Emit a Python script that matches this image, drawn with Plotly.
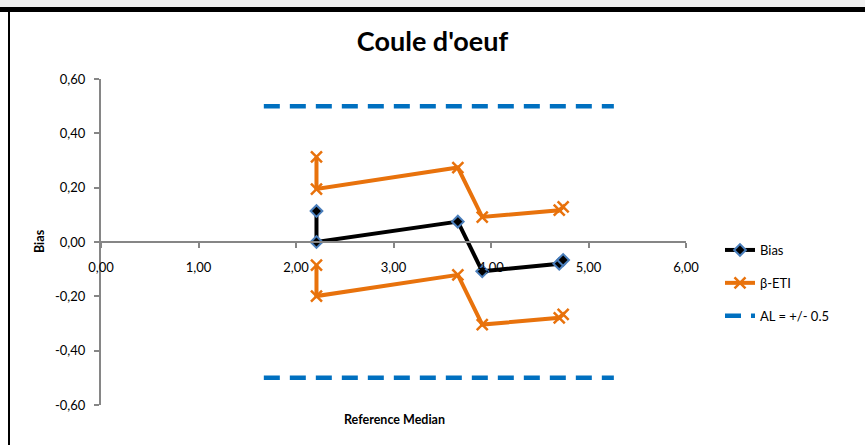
import plotly.graph_objects as go

# Data
bias_x = [2.21, 2.21, 3.66, 3.91, 4.70, 4.74]
bias_y = [0.114, 0.0, 0.075, -0.108, -0.080, -0.066]

eti_up_x = [2.21, 2.21, 3.66, 3.91, 4.70, 4.74]
eti_up_y = [0.313, 0.195, 0.274, 0.092, 0.117, 0.129]

eti_lo_x = [2.21, 2.21, 3.66, 3.91, 4.70, 4.74]
eti_lo_y = [-0.085, -0.199, -0.121, -0.304, -0.279, -0.266]

al_x = [1.67, 5.26]
al_up = [0.5, 0.5]
al_lo = [-0.5, -0.5]

x_ticks = [0, 1, 2, 3, 4, 5, 6]
y_ticks = [-0.6, -0.4, -0.2, 0.0, 0.2, 0.4, 0.6]


def fmt(v):
    return f"{v:.2f}".replace(".", ",")


ORANGE = "#E8720C"
BLUE_AL = "#0070C0"
FONT = "Lato"

fig = go.Figure()

fig.add_trace(go.Scatter(
    x=al_x, y=al_up, mode="lines", name="AL = +/- 0.5",
    line=dict(color=BLUE_AL, width=4.5, dash="16px,10px"),
    legendgroup="c", legendrank=3,
))
fig.add_trace(go.Scatter(
    x=al_x, y=al_lo, mode="lines", name="AL = +/- 0.5",
    line=dict(color=BLUE_AL, width=4.5, dash="16px,10px"),
    legendgroup="c", showlegend=False,
))
fig.add_trace(go.Scatter(
    x=eti_up_x, y=eti_up_y, mode="lines+markers", name="β-ETI",
    line=dict(color=ORANGE, width=4),
    marker=dict(symbol="x-thin", size=11, line=dict(color=ORANGE, width=2.5), color=ORANGE),
    legendgroup="b", legendrank=2,
))
fig.add_trace(go.Scatter(
    x=eti_lo_x, y=eti_lo_y, mode="lines+markers", name="β-ETI",
    line=dict(color=ORANGE, width=4),
    marker=dict(symbol="x-thin", size=11, line=dict(color=ORANGE, width=2.5), color=ORANGE),
    legendgroup="b", showlegend=False,
))
fig.add_trace(go.Scatter(
    x=bias_x, y=bias_y, mode="lines+markers", name="Bias",
    line=dict(color="black", width=4),
    marker=dict(symbol="diamond", size=9, color="black", line=dict(color="#4A7EBB", width=2)),
    legendgroup="a", legendrank=1,
))

L, R, T, B = 101, 179, 79, 40
W, H = 865, 445
pw, ph = W - L - R, H - T - B


def px_x(px):
    return (px - L) / pw


def px_y(py):
    return (H - B - py) / ph


shapes = [
    dict(type="rect", xref="paper", yref="paper", x0=px_x(0), x1=px_x(W), y0=px_y(7), y1=px_y(0),
         fillcolor="#F0F0F0", line=dict(width=0), layer="below"),
    dict(type="rect", xref="paper", yref="paper", x0=px_x(0), x1=px_x(W), y0=px_y(12), y1=px_y(7),
         fillcolor="black", line=dict(width=0), layer="below"),
    dict(type="rect", xref="paper", yref="paper", x0=px_x(8), x1=px_x(10), y0=px_y(H), y1=px_y(12),
         fillcolor="black", line=dict(width=0), layer="below"),
]

fig.update_layout(
    width=W, height=H,
    margin=dict(l=L, r=R, t=T, b=B),
    paper_bgcolor="white", plot_bgcolor="white",
    font=dict(family=FONT, size=13, color="black"),
    title=dict(text="<b>Coule d'oeuf</b>", x=0.5, xref="container", xanchor="center",
               y=1 - 42 / H, yref="container", yanchor="middle",
               font=dict(family=FONT, size=27, color="black")),
    showlegend=True,
    legend=dict(x=px_x(720), xanchor="left", y=px_y(283), yanchor="middle",
                font=dict(family=FONT, size=13, color="black"), tracegroupgap=13,
                bgcolor="rgba(0,0,0,0)"),
    shapes=shapes,
    annotations=[
        dict(text="<b>Reference Median</b>", xref="paper", yref="paper", x=px_x(394), y=px_y(419),
             showarrow=False, xanchor="center", yanchor="middle", font=dict(family=FONT, size=12.5)),
        dict(text="<b>Bias</b>", xref="paper", yref="paper", x=px_x(39), y=px_y(241),
             showarrow=False, xanchor="center", yanchor="middle", textangle=-90,
             font=dict(family=FONT, size=12.5)),
    ],
)

fig.update_xaxes(
    range=[0, 6], tickvals=x_ticks, ticktext=[fmt(v) for v in x_ticks],
    showgrid=False, zeroline=False, showline=True, linecolor="#868686", linewidth=2,
    ticks="outside", ticklen=5, tickcolor="#868686", tickwidth=2,
    anchor="free", position=0.5, ticklabelstandoff=8,
    tickfont=dict(family=FONT, size=13, color="black"),
)
fig.update_yaxes(
    range=[-0.6, 0.6], tickvals=y_ticks, ticktext=[fmt(v) for v in y_ticks],
    showgrid=False, zeroline=False, showline=True, linecolor="#868686", linewidth=2,
    ticks="outside", ticklen=5, tickcolor="#868686", tickwidth=2, ticklabelstandoff=6,
    tickfont=dict(family=FONT, size=13, color="black"),
)

fig.write_html("out.html", config={"displayModeBar": False},
               post_script="document.body.style.margin='0';")
